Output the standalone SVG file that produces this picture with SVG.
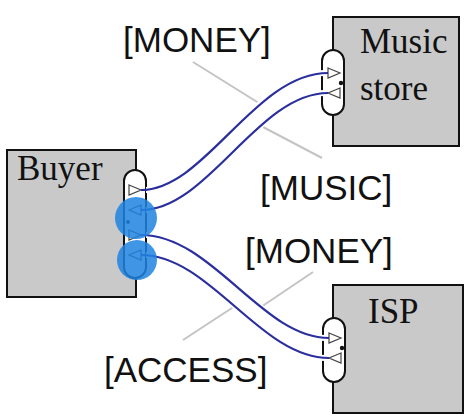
<svg xmlns="http://www.w3.org/2000/svg" width="467" height="416" viewBox="0 0 467 416">
<style>
.box{fill:#c9c9c9;stroke:#111;stroke-width:2}
.port{fill:#fff;stroke:#111;stroke-width:2}
.tri{fill:#fff;stroke:#444;stroke-width:1.2}
.name{font-family:"Liberation Serif","Times New Roman",serif;font-size:35px;fill:#111}
.lbl{font-family:"Liberation Sans",Arial,sans-serif;font-size:35px;fill:#111}
.lead{stroke:#c4c4c4;stroke-width:2;fill:none}
.halo{stroke:#fff;stroke-width:6;fill:none}
.wire{stroke:#2a2f9e;stroke-width:2.2;fill:none}
.hl{fill:#1f84e0;opacity:0.85}
</style>
<rect width="467" height="416" fill="#fff"/>
<g id="leaders">
<line class="lead" x1="193" y1="62" x2="262" y2="105"/>
<line class="lead" x1="263" y1="127" x2="322" y2="158"/>
<line class="lead" x1="313" y1="272" x2="261" y2="307"/>
<line class="lead" x1="235" y1="306" x2="183" y2="340"/>
</g>
<g id="buyer">
<rect class="box" x="7" y="150" width="129" height="147"/>
<text class="name" x="17" y="180">Buyer</text>
<rect class="port" x="124" y="170" width="22" height="108" rx="11"/>
<path class="tri" d="M129,185 L141,190 L129,195 Z"/>
<path class="tri" d="M141,205 L129,210 L141,215 Z"/>
<path class="tri" d="M129,230 L141,235 L129,240 Z"/>
<path class="tri" d="M141,250 L129,255 L141,260 Z"/>
<circle cx="128" cy="222" r="2" fill="#111"/>
</g>
<g id="music-store">
<rect class="box" x="333" y="17" width="126" height="129"/>
<text class="name" x="360" y="53">Music</text>
<text class="name" x="360" y="100">store</text>
<rect class="port" x="322" y="50" width="22" height="65" rx="11"/>
<path class="tri" d="M328,68 L340,73 L328,78 Z"/>
<path class="tri" d="M340,88 L328,93 L340,98 Z"/>
<circle cx="341" cy="83" r="2.2" fill="#111"/>
</g>
<g id="isp">
<rect class="box" x="333" y="285" width="130" height="128"/>
<text class="name" x="368" y="323">ISP</text>
<rect class="port" x="323" y="318" width="22" height="64" rx="11"/>
<path class="tri" d="M329,333 L341,338 L329,343 Z"/>
<path class="tri" d="M341,353 L329,358 L341,363 Z"/>
<circle cx="342" cy="348" r="2.2" fill="#111"/>
</g>
<g id="connectors">
<path class="halo" d="M146,190 C205,190 255,73 325,73"/>
<path class="halo" d="M325,93 C258,93 208,210 146,210"/>
<path class="halo" d="M146,235 C212,235 262,338 326,338"/>
<path class="halo" d="M326,358 C260,358 210,255 146,255"/>
<path class="wire" d="M141,190 C205,190 255,73 328,73"/>
<path class="wire" d="M328,93 C258,93 208,210 141,210"/>
<path class="wire" d="M141,235 C212,235 262,338 329,338"/>
<path class="wire" d="M329,358 C260,358 210,255 141,255"/>
</g>
<g id="highlights">
<circle class="hl" cx="136" cy="218" r="21"/>
<circle class="hl" cx="137" cy="260" r="20"/>
</g>
<g id="labels">
<text class="lbl" x="123" y="52">[MONEY]</text>
<text class="lbl" x="260" y="200">[MUSIC]</text>
<text class="lbl" x="245" y="263">[MONEY]</text>
<text class="lbl" x="104" y="382">[ACCESS]</text>
</g>
</svg>
